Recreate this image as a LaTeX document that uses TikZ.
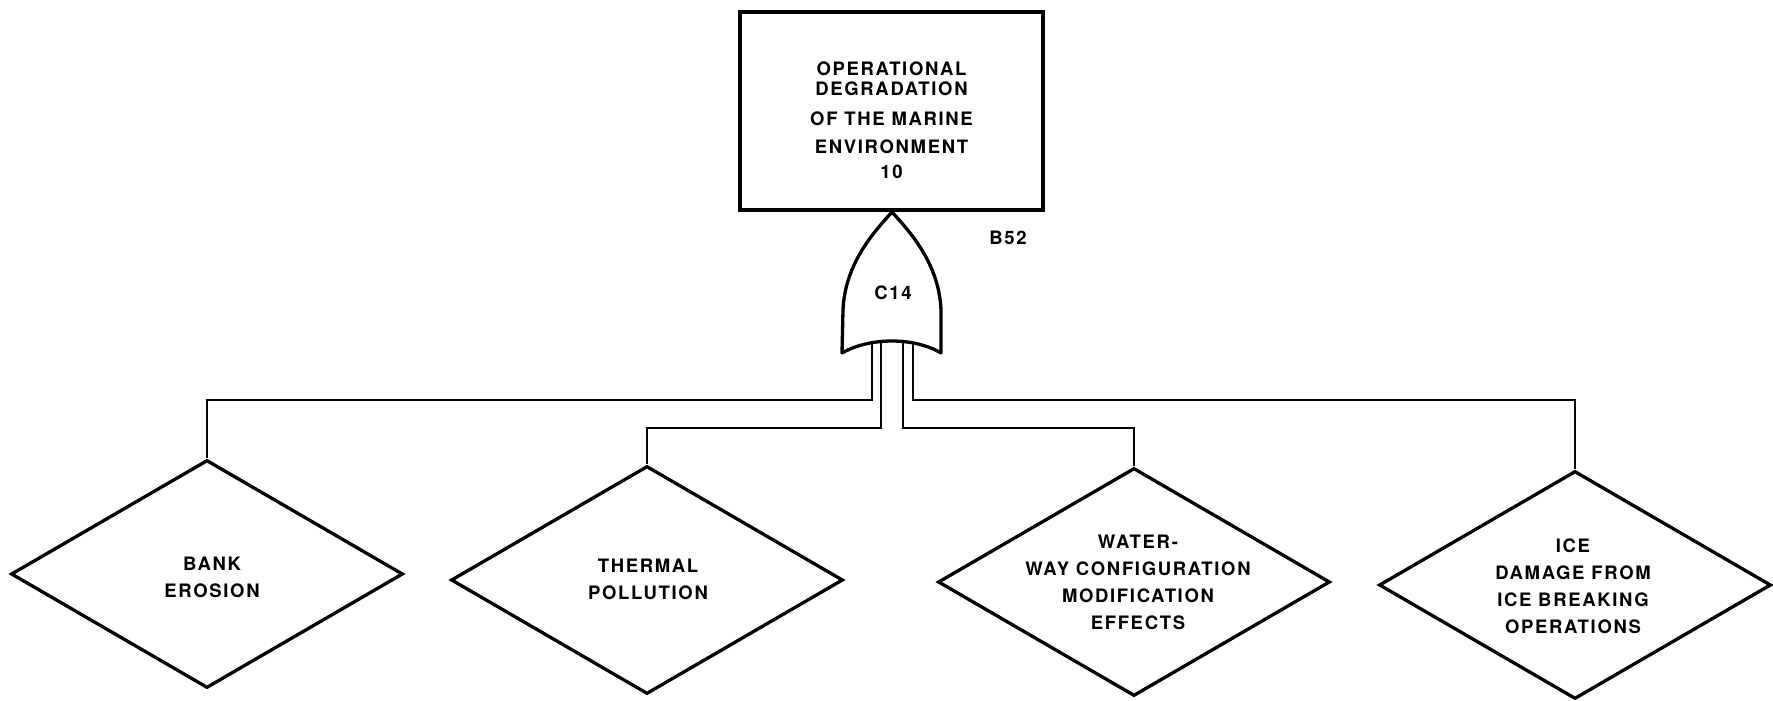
\documentclass[tikz,border=0pt]{standalone}
\usepackage{fontspec}
\setmainfont{TeX Gyre Heros}[LetterSpace=9]
\usetikzlibrary{shapes.geometric}
\begin{document}
\begin{tikzpicture}[x=1pt,y=-1pt,
  lbl/.style={font=\fontsize{18.5}{27}\selectfont\bfseries, align=center, inner sep=0pt},
  topbox/.style={draw, line width=3.6pt, rectangle, minimum width=303pt, minimum height=198pt, inner sep=0pt},
  undeveloped/.style={draw, line width=3.3pt, diamond, minimum width=392pt, minimum height=228pt, inner sep=0pt},
  lead/.style={line width=2.4pt},
  gateline/.style={line width=3.3pt, line join=round, fill=white}]
\useasboundingbox (0,0) rectangle (1773,701);

% top event
\node[topbox] (top) at (891.5,111) {};
\node[lbl, font=\fontsize{18.5}{20}\selectfont\bfseries] (toptext) at (891.5,120)
  {OPERATIONAL\\DEGRADATION\\[10pt]OF THE MARINE\\[8pt]ENVIRONMENT\\[5pt]10};
\node[lbl] (b52) at (1008,238) {B52};

% undeveloped events
\node[undeveloped] (bank) at (207,574) {};
\node[undeveloped] (thermal) at (647,580) {};
\node[undeveloped] (waterway) at (1134,582) {};
\node[undeveloped] (ice) at (1575,585) {};
\node[lbl] (banktext) at (212,577) {BANK\\EROSION};
\node[lbl] (thermaltext) at (648,579) {THERMAL\\POLLUTION};
\node[lbl] (waterwaytext) at (1138,582) {WATER-\\WAY CONFIGURATION\\MODIFICATION\\EFFECTS};
\node[lbl] (icetext) at (1573,586) {ICE\\DAMAGE FROM\\ICE BREAKING\\OPERATIONS};

% gate inputs
\coordinate (g1) at (872,340);
\coordinate (g2) at (881,340);
\coordinate (g3) at (903,340);
\coordinate (g4) at (913,340);
\coordinate (hout) at (0,400);
\coordinate (hin) at (0,428);
\draw[lead] (g1) -- (g1 |- hout) -| (bank.north);
\draw[lead] (g2) -- (g2 |- hin) -| (thermal.north);
\draw[lead] (g3) -- (g3 |- hin) -| (waterway.north);
\draw[lead] (g4) -- (g4 |- hout) -| (ice.north);

% OR gate
\draw[gateline] (892,212) .. controls (876,230) and (845,262) .. (843,310)
  -- (842,353) .. controls (870,337) and (914,337) .. (941,353)
  -- (941,310) .. controls (939,262) and (908,230) .. (892,212) -- cycle;
\node[lbl] (c14) at (893,293) {C14};
\end{tikzpicture}
\end{document}
